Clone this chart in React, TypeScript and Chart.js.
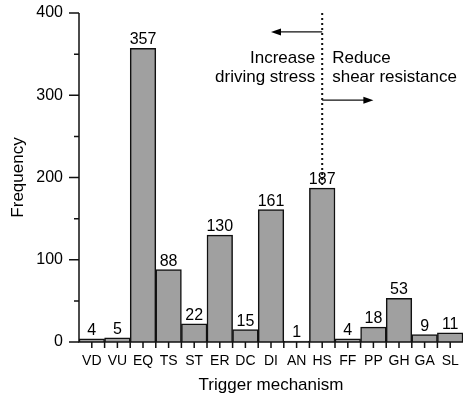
import React, { useEffect, useRef } from "react";
import { Chart, registerables } from "chart.js";

Chart.register(...registerables);

// Landslide trigger mechanisms and how often each occurs
const categories = ["VD", "VU", "EQ", "TS", "ST", "ER", "DC", "DI", "AN", "HS", "FF", "PP", "GH", "GA", "SL"];
const frequencies = [4, 5, 357, 88, 22, 130, 15, 161, 1, 187, 4, 18, 53, 9, 11];
const yMajorTicks = [0, 100, 200, 300, 400];
const yMinorTicks = [50, 150, 250, 350];
const splitCategory = "HS";
const leftNote = ["Increase", "driving stress"];
const rightNote = ["Reduce", "shear resistance"];

const FONT = '"Liberation Sans", Arial, Helvetica, sans-serif';

const noScalePadding = (s: any) => {
  s.paddingTop = 0;
  s.paddingBottom = 0;
  s.paddingLeft = 0;
  s.paddingRight = 0;
};

const decorations = {
  id: "decorations",
  afterDatasetsDraw(chart: any) {
    const { ctx, chartArea, scales } = chart;
    const x = scales.x;
    const y = scales.y;
    const left = chartArea.left;
    const bottom = chartArea.bottom;
    const step = x.getPixelForValue(1) - x.getPixelForValue(0);

    ctx.save();
    ctx.strokeStyle = "#111";
    ctx.fillStyle = "#000";
    ctx.lineWidth = 1.5;

    // axis lines
    ctx.beginPath();
    ctx.moveTo(left, y.getPixelForValue(400));
    ctx.lineTo(left, bottom);
    ctx.lineTo(chartArea.right, bottom);
    ctx.stroke();

    // y ticks (major and minor, pointing out)
    ctx.beginPath();
    yMajorTicks.forEach((v) => {
      const py = y.getPixelForValue(v);
      ctx.moveTo(left - 10, py);
      ctx.lineTo(left, py);
    });
    yMinorTicks.forEach((v) => {
      const py = y.getPixelForValue(v);
      ctx.moveTo(left - 5, py);
      ctx.lineTo(left, py);
    });
    // x ticks at category centres and boundaries
    categories.forEach((_, i) => {
      const cx = x.getPixelForValue(i);
      ctx.moveTo(cx, bottom);
      ctx.lineTo(cx, bottom + 6);
      if (i > 0) {
        ctx.moveTo(cx - step / 2, bottom);
        ctx.lineTo(cx - step / 2, bottom + 6);
      }
    });
    ctx.stroke();

    // value labels
    ctx.font = `16px ${FONT}`;
    ctx.textAlign = "center";
    ctx.textBaseline = "alphabetic";
    frequencies.forEach((v, i) => {
      ctx.fillText(String(v), x.getPixelForValue(i), y.getPixelForValue(v) - 4);
    });

    // dotted divider through the split category
    const si = categories.indexOf(splitCategory);
    const sx = x.getPixelForValue(si);
    ctx.lineWidth = 2;
    ctx.setLineDash([2, 3]);
    ctx.beginPath();
    ctx.moveTo(sx, y.getPixelForValue(400));
    ctx.lineTo(sx, y.getPixelForValue(frequencies[si]));
    ctx.stroke();
    ctx.setLineDash([]);

    // arrows
    const arrow = (x0: number, x1: number, py: number) => {
      const dir = Math.sign(x1 - x0);
      ctx.lineWidth = 1.3;
      ctx.beginPath();
      ctx.moveTo(x0, py);
      ctx.lineTo(x1 - dir * 8, py);
      ctx.stroke();
      ctx.beginPath();
      ctx.moveTo(x1, py);
      ctx.lineTo(x1 - dir * 10, py - 3.5);
      ctx.lineTo(x1 - dir * 10, py + 3.5);
      ctx.closePath();
      ctx.fill();
    };
    arrow(sx, x.getPixelForValue(si - 2), y.getPixelForValue(377));
    arrow(sx, x.getPixelForValue(si + 2), y.getPixelForValue(294));

    // annotations
    ctx.font = `17px ${FONT}`;
    ctx.textBaseline = "middle";
    ctx.textAlign = "right";
    ctx.fillText(leftNote[0], sx - 7, y.getPixelForValue(345));
    ctx.fillText(leftNote[1], sx - 7, y.getPixelForValue(322));
    ctx.textAlign = "left";
    ctx.fillText(rightNote[0], sx + 10, y.getPixelForValue(345));
    ctx.fillText(rightNote[1], sx + 10, y.getPixelForValue(322));

    ctx.restore();
  },
};

export default function App() {
  const canvasRef = useRef<HTMLCanvasElement | null>(null);

  useEffect(() => {
    document.body.style.margin = "0";
    const canvas = canvasRef.current;
    if (!canvas) return;
    const chart = new Chart(canvas, {
      type: "bar",
      data: {
        labels: categories,
        datasets: [
          {
            data: frequencies,
            backgroundColor: "#a0a0a0",
            borderColor: "#111",
            borderWidth: 1.5,
            barPercentage: 1,
            categoryPercentage: 1,
          },
        ],
      },
      options: {
        animation: false,
        responsive: false,
        maintainAspectRatio: false,
        layout: { padding: { top: 13, right: 0, left: 0, bottom: 0 } },
        plugins: { legend: { display: false }, tooltip: { enabled: false } },
        scales: {
          x: {
            grid: { display: false, drawTicks: false },
            border: { display: false },
            ticks: {
              color: "#000",
              font: { size: 14, family: FONT },
              padding: 11,
              maxRotation: 0,
              autoSkip: false,
            },
            title: {
              display: true,
              text: "Trigger mechanism",
              color: "#000",
              font: { size: 17, family: FONT },
              padding: { top: 0, bottom: 0 },
            },
            afterFit: (s: any) => {
              s.height = 54;
              noScalePadding(s);
            },
          },
          y: {
            min: 0,
            max: 400,
            grid: { display: false, drawTicks: false },
            border: { display: false },
            ticks: {
              stepSize: 100,
              color: "#000",
              font: { size: 16, family: FONT },
              padding: 16,
            },
            title: {
              display: true,
              text: "Frequency",
              color: "#000",
              font: { size: 17, family: FONT },
              padding: { top: 8, bottom: 0 },
            },
            afterFit: (s: any) => {
              s.width = 79;
              noScalePadding(s);
            },
          },
        },
      },
      plugins: [decorations],
    });
    return () => chart.destroy();
  }, []);

  return (
    <div style={{ width: 463, height: 396 }}>
      <canvas ref={canvasRef} width={463} height={396} style={{ display: "block" }} />
    </div>
  );
}
